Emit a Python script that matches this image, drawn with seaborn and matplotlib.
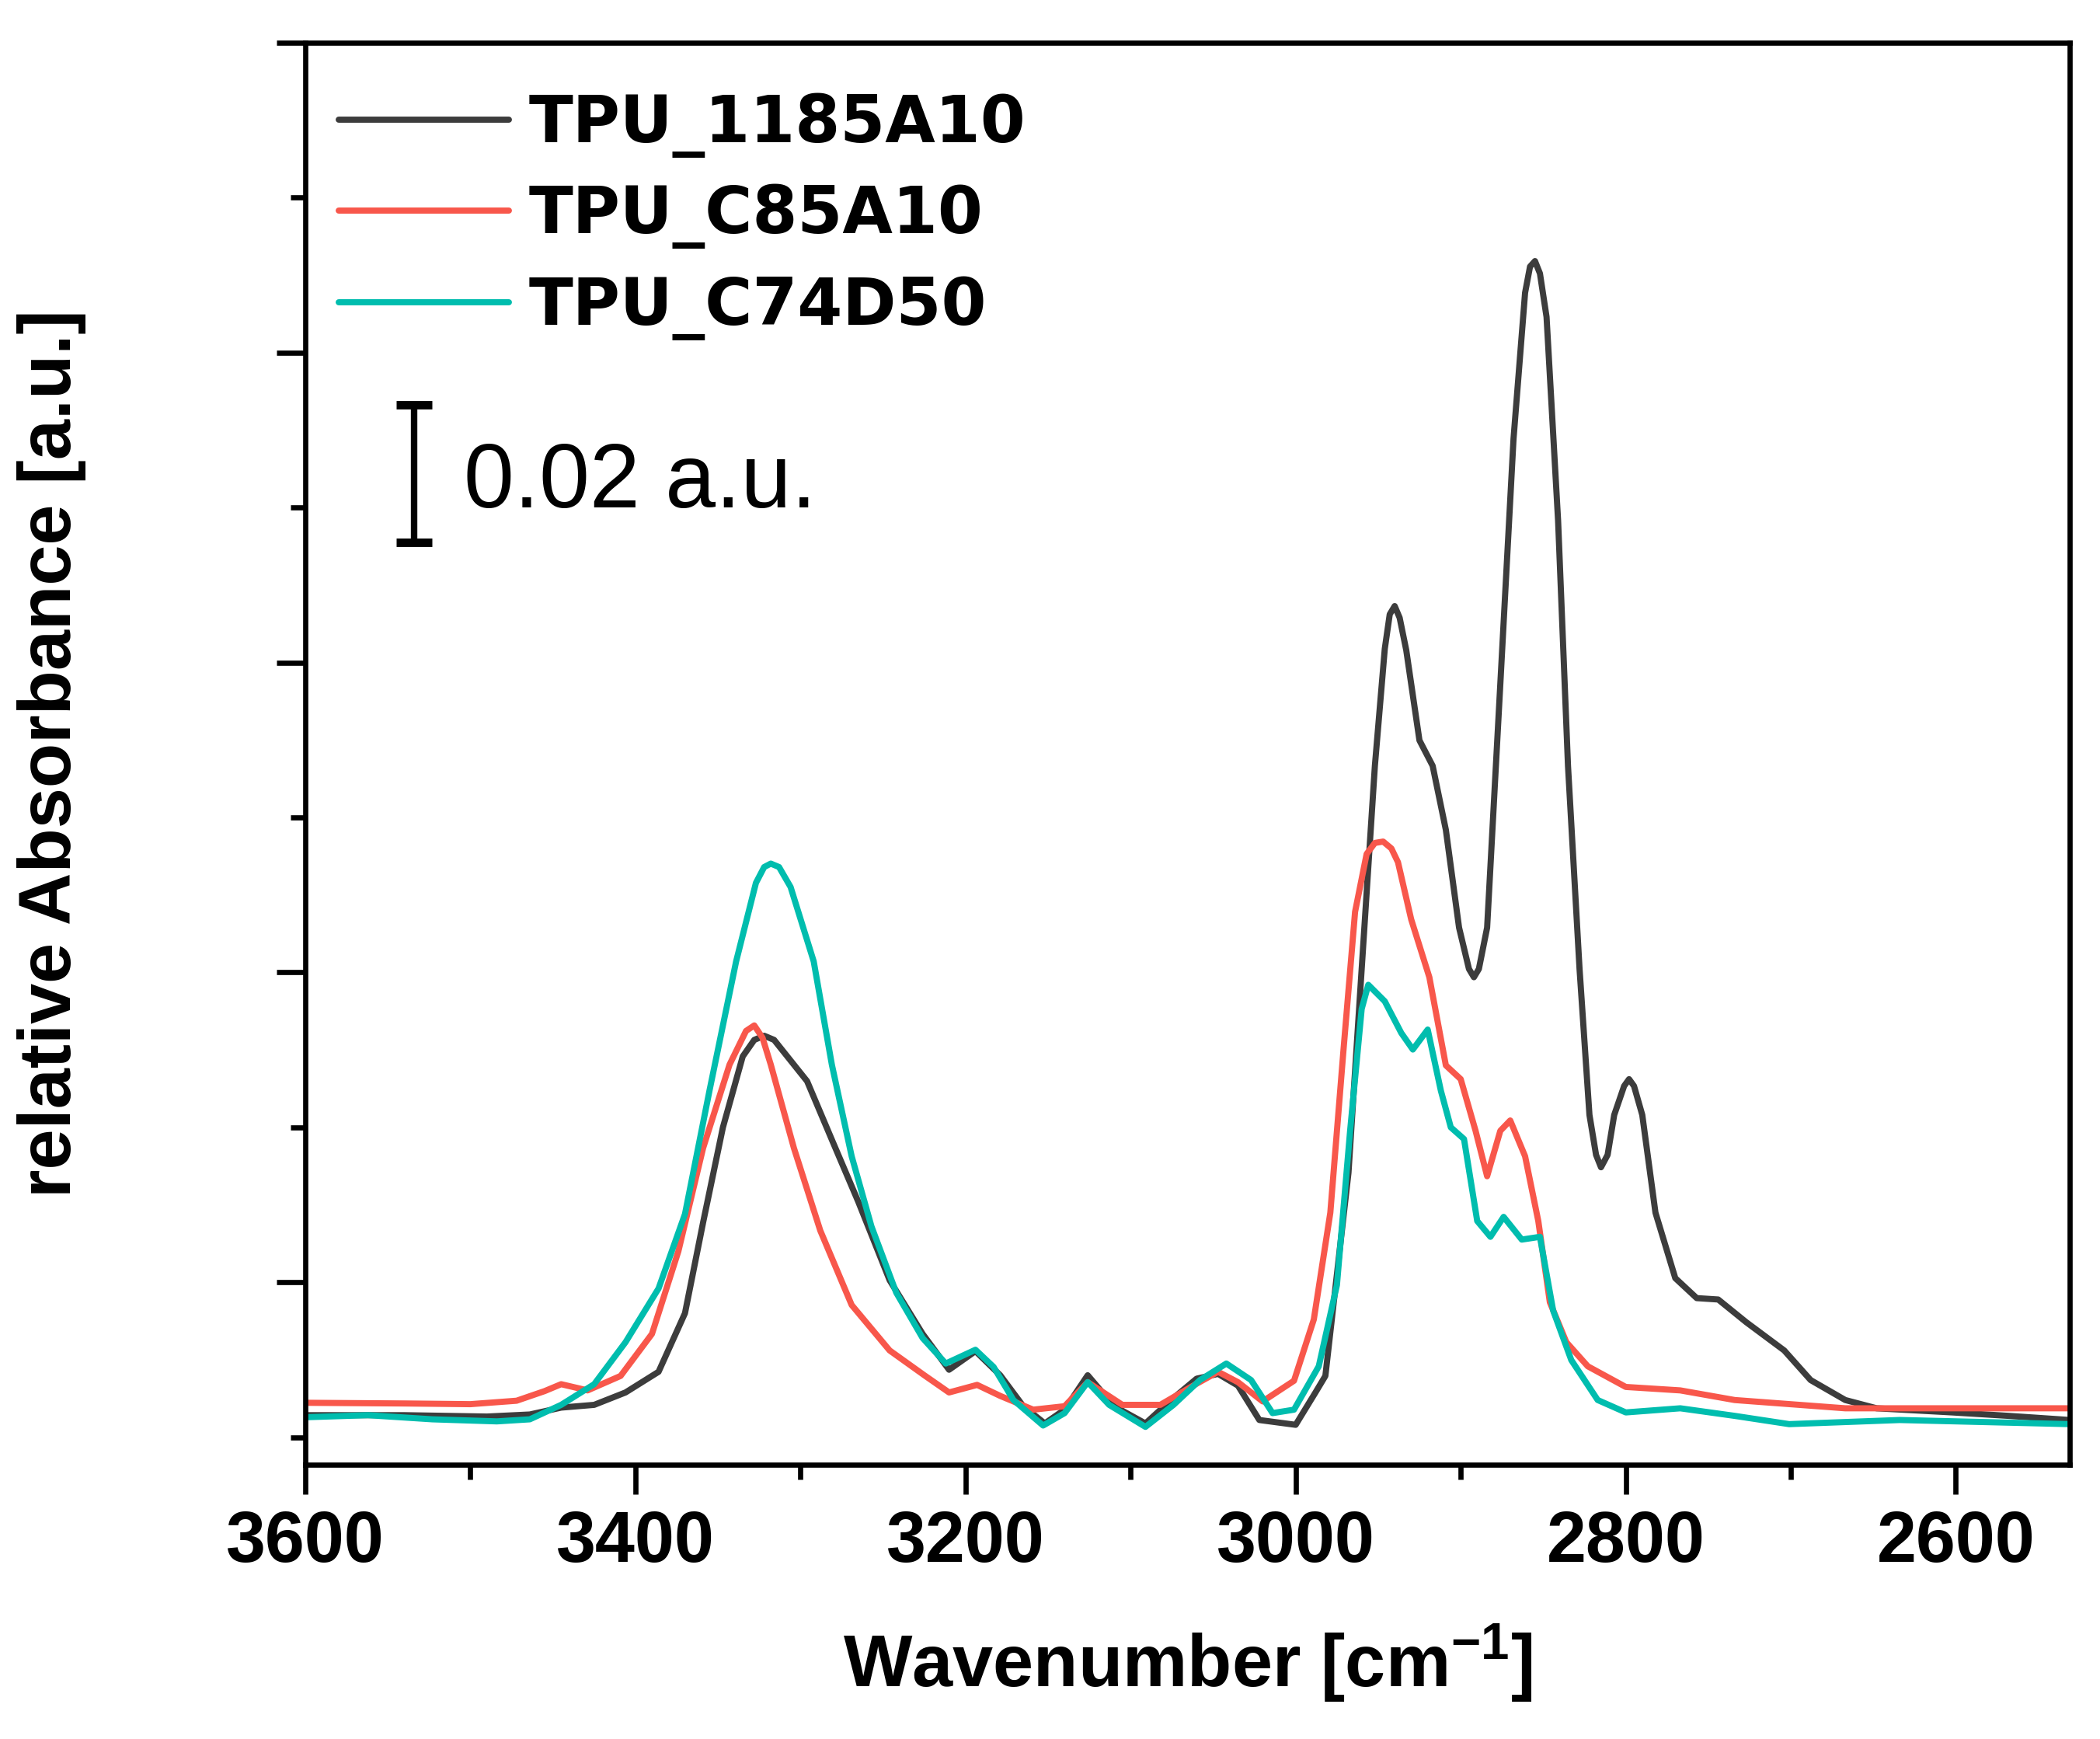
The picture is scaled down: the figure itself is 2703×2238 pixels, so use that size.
import numpy as np
import pandas as pd
import matplotlib
matplotlib.use("Agg")
import matplotlib.pyplot as plt
from matplotlib.ticker import MultipleLocator
from matplotlib.font_manager import FontProperties
import seaborn as sns

# ---- data (wavenumber in cm-1, absorbance in a.u.) ----
wn_1185 = [3600, 3540, 3490, 3464, 3445, 3425, 3406, 3386, 3370, 3359, 3347, 3335,
           3328, 3322, 3316, 3312, 3296, 3281, 3265, 3246, 3226, 3210, 3194, 3179,
           3165, 3152, 3140, 3126, 3110, 3091, 3075, 3060, 3047, 3035, 3022, 3000,
           2988, 2982, 2968, 2960, 2952, 2946, 2943, 2940, 2937, 2933, 2925, 2917,
           2909, 2901, 2895, 2892, 2889, 2884, 2876, 2868, 2861, 2858, 2855, 2852,
           2848, 2841, 2835, 2828, 2822, 2818, 2815, 2811, 2807, 2801, 2798, 2795,
           2790, 2782, 2770, 2757, 2744, 2727, 2704, 2688, 2667, 2648, 2602, 2568, 2531]
abs_1185 = [-0.0193, -0.0193, -0.0195, -0.0192, -0.0182, -0.0178, -0.0160, -0.0130,
            -0.0045, 0.0087, 0.0225, 0.0328, 0.0352, 0.0358, 0.0352, 0.0340, 0.0292,
            0.0207, 0.0117, 0.0003, -0.0075, -0.0127, -0.0100, -0.0135, -0.0180,
            -0.0205, -0.0185, -0.0135, -0.0180, -0.0205, -0.0170, -0.0140, -0.0133,
            -0.0150, -0.0200, -0.0207, -0.0160, -0.0136, 0.0159, 0.0455, 0.0750,
            0.0920, 0.0970, 0.0982, 0.0965, 0.0918, 0.0787, 0.0750, 0.0657, 0.0515,
            0.0455, 0.0443, 0.0455, 0.0515, 0.0869, 0.1225, 0.1437, 0.1475, 0.1483,
            0.1465, 0.1402, 0.1106, 0.0750, 0.0455, 0.0243, 0.0185, 0.0167, 0.0185,
            0.0243, 0.0285, 0.0295, 0.0285, 0.0243, 0.0101, 0.0006, -0.0023, -0.0025,
            -0.0058, -0.0099, -0.0142, -0.0171, -0.0183, -0.0189, -0.0194, -0.0200]

wn_c85 = [3600, 3540, 3500, 3472, 3455, 3445, 3429, 3409, 3390, 3374, 3359, 3343,
          3333, 3328, 3323, 3318, 3304, 3288, 3269, 3246, 3225, 3210, 3193, 3179,
          3159, 3140, 3126, 3105, 3082, 3062, 3047, 3035, 3020, 3001, 2989, 2979,
          2971, 2964, 2957, 2952, 2947, 2942, 2938, 2930, 2919, 2909, 2900, 2891,
          2884, 2876, 2870, 2861, 2853, 2846, 2836, 2823, 2800, 2767, 2734, 2667,
          2600, 2531]
abs_c85 = [-0.0175, -0.0176, -0.0177, -0.0172, -0.0158, -0.0148, -0.0157, -0.0136,
           -0.0075, 0.0045, 0.0195, 0.0316, 0.0365, 0.0373, 0.0355, 0.0316, 0.0195,
           0.0075, -0.0033, -0.0099, -0.0135, -0.0160, -0.0149, -0.0165, -0.0185,
           -0.0180, -0.0145, -0.0178, -0.0178, -0.0150, -0.0130, -0.0145, -0.0173,
           -0.0143, -0.0054, 0.0101, 0.0338, 0.0538, 0.0622, 0.0638, 0.0640, 0.0630,
           0.0610, 0.0527, 0.0443, 0.0315, 0.0295, 0.0220, 0.0154, 0.0220, 0.0235,
           0.0183, 0.0089, -0.0029, -0.0087, -0.0122, -0.0152, -0.0157, -0.0171,
           -0.0183, -0.0183, -0.0183]

wn_c74 = [3600, 3562, 3523, 3484, 3464, 3445, 3425, 3406, 3386, 3370, 3355, 3339,
          3327, 3322, 3318, 3313, 3306, 3292, 3281, 3269, 3257, 3242, 3226, 3212,
          3194, 3183, 3171, 3153, 3140, 3126, 3113, 3091, 3074, 3058, 3042, 3027,
          3014, 3001, 2986, 2975, 2967, 2960, 2956, 2946, 2936, 2929, 2920, 2912,
          2906, 2898, 2890, 2882, 2874, 2863, 2852, 2844, 2833, 2817, 2800, 2767,
          2734, 2701, 2634, 2531]
abs_c74 = [-0.0196, -0.0193, -0.0199, -0.0202, -0.0199, -0.0178, -0.0148, -0.0087,
           -0.0009, 0.0099, 0.0280, 0.0466, 0.0580, 0.0603, 0.0608, 0.0603, 0.0574,
           0.0466, 0.0316, 0.0183, 0.0081, -0.0015, -0.0081, -0.0118, -0.0098,
           -0.0123, -0.0171, -0.0208, -0.0190, -0.0145, -0.0178, -0.0210, -0.0178,
           -0.0142, -0.0118, -0.0142, -0.0190, -0.0185, -0.0122, -0.0004, 0.0220,
           0.0397, 0.0432, 0.0408, 0.0362, 0.0338, 0.0367, 0.0278, 0.0225, 0.0208,
           0.0089, 0.0066, 0.0095, 0.0062, 0.0066, -0.0041, -0.0113, -0.0171,
           -0.0189, -0.0183, -0.0194, -0.0206, -0.0200, -0.0206]

sample_names = ["TPU_1185A10", "TPU_C85A10", "TPU_C74D50"]
sample_colors = ["#3c3c3c", "#f8574b", "#00bdae"]

scale_bar_value = 0.02
scale_bar_label = "0.02 a.u."


def main():
    sns.set_theme(style="ticks")
    plt.rcParams["axes.linewidth"] = 1.6
    plt.rcParams["mathtext.default"] = "regular"
    plt.rcParams["text.color"] = "black"
    plt.rcParams["axes.labelcolor"] = "black"
    plt.rcParams["xtick.color"] = "black"
    plt.rcParams["ytick.color"] = "black"

    df = pd.concat([
        pd.DataFrame({"wn": wn_1185, "absorb": abs_1185, "sample": sample_names[0]}),
        pd.DataFrame({"wn": wn_c85, "absorb": abs_c85, "sample": sample_names[1]}),
        pd.DataFrame({"wn": wn_c74, "absorb": abs_c74, "sample": sample_names[2]}),
    ], ignore_index=True)

    fig = plt.figure(figsize=(2703 / 300, 2238 / 300), dpi=300)
    ax = fig.add_axes([0.1454, 0.1577, 0.8402, 0.8177])

    sns.lineplot(ax=ax, data=df, x="wn", y="absorb", hue="sample",
                 hue_order=sample_names, palette=dict(zip(sample_names, sample_colors)),
                 estimator=None, sort=False, linewidth=1.9)

    ax.set_xlim(3600, 2531)
    ax.set_ylim(-0.0265, 0.18)
    ax.set_xticks([3600, 3400, 3200, 3000, 2800, 2600])
    ax.xaxis.set_minor_locator(MultipleLocator(100))
    ax.yaxis.set_major_locator(MultipleLocator(0.045))
    ax.yaxis.set_minor_locator(MultipleLocator(0.0225))

    for sp in ax.spines.values():
        sp.set_visible(True)
        sp.set_linewidth(1.6)
        sp.set_color("black")

    ax.tick_params(which="both", direction="out", width=1.6, color="black",
                   top=False, right=False, left=True, bottom=True, labelleft=False)
    ax.tick_params(which="major", length=9, pad=5)
    ax.tick_params(which="minor", length=4.5)

    tick_font = FontProperties(family=["Liberation Sans Narrow", "Liberation Sans"],
                               weight="bold", size=22)
    for lab in ax.get_xticklabels():
        lab.set_fontproperties(tick_font)
        lab.set_color("black")

    label_font = FontProperties(family="Liberation Sans", weight="bold", size=22.5)
    ax.set_xlabel("Wavenumber [cm$^{-1}$]", fontproperties=label_font, labelpad=14,
                  color="black")
    ax.set_ylabel("relative Absorbance [a.u.]", fontproperties=label_font,
                  color="black")
    ax.yaxis.set_label_coords(-0.124, 0.5)

    # scale bar
    ax.errorbar([3534], [0.1174], yerr=[scale_bar_value / 2], fmt="none",
                ecolor="black", elinewidth=2, capsize=5.5, capthick=2.6)
    ax.text(3504, 0.1125, scale_bar_label, ha="left", va="baseline",
            fontsize=28, family="Liberation Sans", color="black")

    handles, labels = ax.get_legend_handles_labels()
    leg = ax.legend(handles, labels, loc="upper left", bbox_to_anchor=(0.0189, 0.965),
                    frameon=False, borderaxespad=0, borderpad=0, handlelength=2.63,
                    handletextpad=0.31, labelspacing=0.4,
                    prop=FontProperties(family="DejaVu Sans", weight="bold", size=20))
    for t in leg.get_texts():
        t.set_color("black")

    fig.savefig("out.png", dpi=300, facecolor="white")
    plt.close(fig)


if __name__ == "__main__":
    main()
